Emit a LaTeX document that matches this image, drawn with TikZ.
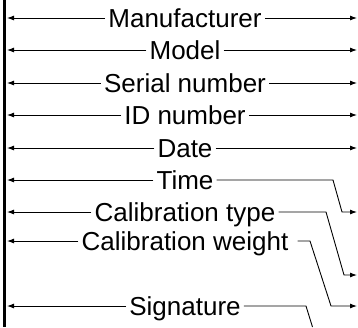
\documentclass[tikz,border=0pt]{standalone}
\usepackage{fontspec}
\setmainfont{Liberation Sans}
\usetikzlibrary{arrows.meta, positioning}

\begin{document}
\begin{tikzpicture}[x=1pt, y=-1pt, >={Latex[length=7pt,width=5pt]},
    field/.style={inner sep=3pt, font=\fontsize{26}{30}\selectfont, text height=18.6pt, text depth=0pt},
    lead/.style={line width=0.9pt}]
    \useasboundingbox (0,0) rectangle (358,327);
    % Thanh doc ben trai
    \draw[line width=2.7pt] (4.3,0) -- (4.3,327);
    
    % Cac muc va mui ten sang trai
    \foreach \n/\y/\t in {manu/18/Manufacturer, model/50/Model, serial/83/Serial number,
        idnum/115/ID number, date/148/Date, time/180/Time, caltype/212/Calibration type,
        calweight/241/Calibration weight, sig/306/Signature} {
        \node[field] (\n) at (185,\y) {\t};
        \coordinate (\n-l) at (7,\y);
        \coordinate (\n-r) at (357,\y);
        \draw[lead, ->] (\n.west) -- (\n-l);
    }
    
    % Mui ten thang sang phai
    \foreach \n in {manu, model, serial, idnum, date} {
        \draw[lead, ->] (\n.east) -- (\n-r);
    }
    
    % Mui ten gay khuc sang phai
    \draw[lead, ->] (time.east) -- (333,180) -- (342,212) -- (caltype-r);
    \draw[lead, ->] (caltype.east) -- (326,212) -- (344,275) -- (357,275);
    \draw[lead, ->, shorten <=6pt] (calweight.east) -- (310,241) -- (331,306) -- (sig-r);
    \coordinate (sig-e) at (312.5,327);
    \draw[lead] (sig.east) -- (306,306) -- (sig-e);
    
\end{tikzpicture}
\end{document}
